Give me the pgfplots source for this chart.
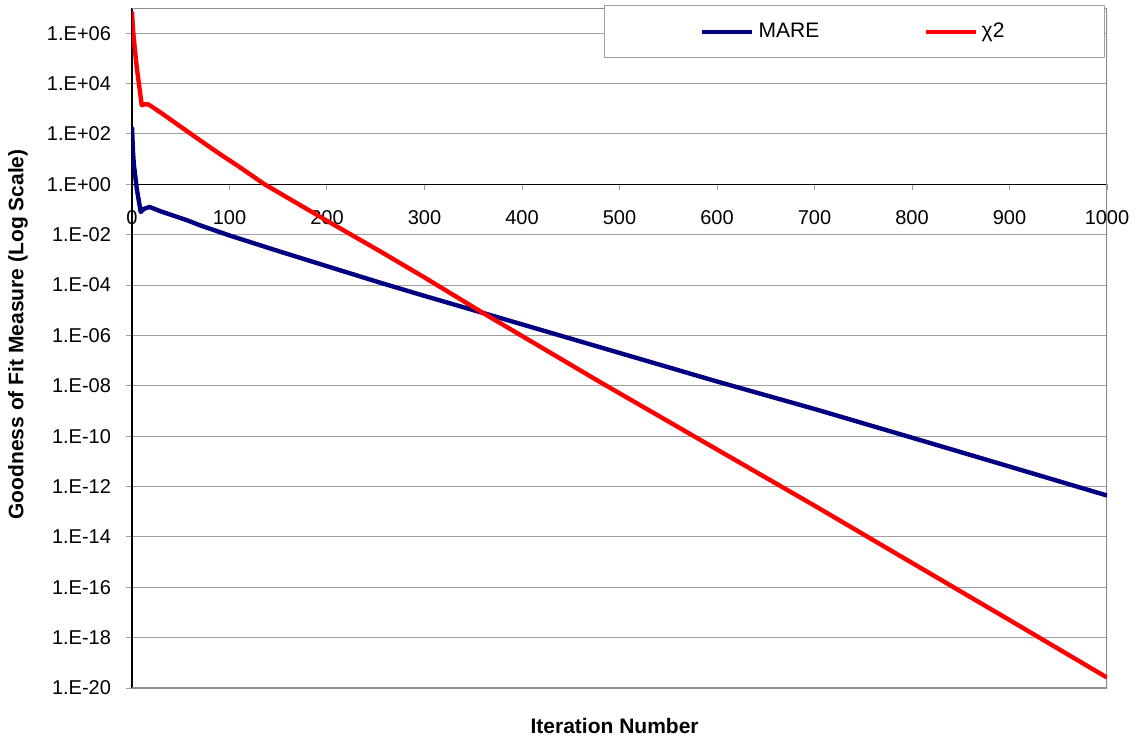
\documentclass[border=0pt]{standalone}
\usepackage{pgfplots}
\pgfplotsset{compat=1.18}
\usepackage{fontspec}
\setmainfont{Liberation Sans}
\definecolor{gridc}{HTML}{A0A0A0}
\definecolor{framec}{HTML}{8C8C8C}
\definecolor{mare}{HTML}{000080}
\definecolor{chi}{HTML}{FF0000}
\begin{document}
\begin{tikzpicture}
\begin{axis}[
  scale only axis, width=487.5pt, height=340pt,
  xmin=0, xmax=1000, ymode=log, ymin=1e-20, ymax=1e7,
  axis x line*=middle, axis y line*=left,
  axis line style={black, line width=0.6pt},
  hide obscured x ticks=false,
  xtick={0,100,200,300,400,500,600,700,800,900,1000},
  xticklabels={0,100,200,300,400,500,600,700,800,900,1000},
  ytick={1e-20,1e-18,1e-16,1e-14,1e-12,1e-10,1e-8,1e-6,1e-4,1e-2,1,1e2,1e4,1e6},
  yticklabels={1.E-20,1.E-18,1.E-16,1.E-14,1.E-12,1.E-10,1.E-08,1.E-06,1.E-04,1.E-02,1.E+00,1.E+02,1.E+04,1.E+06},
  yminorticks=false, xminorticks=false,
  ymajorgrids, major grid style={gridc, line width=0.5pt},
  tick style={gridc, line width=0.5pt}, major tick length=3pt,
  ytick align=outside, xtick align=center,
  major x tick style={yshift=-1.5pt},
  ticklabel style={font=\fontsize{10}{12}\selectfont},
  xticklabel style={yshift=-8pt},
  yticklabel style={xshift=-4pt},
  xlabel={Iteration Number}, ylabel={Goodness of Fit Measure (Log Scale)},
  every axis x label/.style={at={(rel axis cs:0.495,-0.056)}, anchor=center, font=\fontsize{10.5}{12}\selectfont\bfseries},
  every axis y label/.style={at={(rel axis cs:-0.117,0.52)}, rotate=90, anchor=center, font=\fontsize{10.5}{12}\selectfont\bfseries},
  legend columns=2,
  legend style={at={(rel axis cs:0.998,1.004)}, anchor=north east, draw=gridc, line width=0.6pt, fill=white,
    font=\fontsize{10.5}{12}\selectfont, inner xsep=48pt, inner ysep=6.5pt,
    /tikz/every even column/.append style={column sep=50pt}},
  legend image code/.code={\draw[#1] (0pt,0pt) -- (25pt,0pt);},
  line join=round,
]
\draw[framec, line width=0.8pt] (rel axis cs:0,0) -- (rel axis cs:1,0) -- (rel axis cs:1,1) -- (rel axis cs:0,1);
\addplot[mare, line width=2.2pt] coordinates {
(0,190) (1,20) (2,5.6) (5,0.63) (9,0.079) (12,0.105) (18,0.126) (30,0.083)
(56,0.038) (70,0.0234) (100,9.3e-3) (150,2.24e-3) (200,5.6e-4) (254,1.26e-4)
(300,3.7e-5) (360,7.8e-6) (480,3.4e-7) (600,1.48e-8) (700,1.2e-9)
(800,8.7e-11) (900,6.2e-12) (1000,4.4e-13)
};
\addlegendentry{MARE}
\addplot[chi, line width=2.2pt] coordinates {
(0,7.1e6) (1,1.4e6) (3,2.2e5) (5,4.0e4) (8,5.4e3) (10,1.38e3) (13,1.51e3) (17,1.48e3)
(30,6.8e2) (56,1.32e2) (70,55) (90,16) (109,5.25) (136,1.0) (170,1.7e-1) (200,3.55e-2) (254,2.24e-3)
(300,2.0e-4) (360,7.8e-6) (480,1.41e-8) (600,2.95e-11) (700,1.74e-13)
(800,9.3e-16) (900,5.0e-18) (1000,2.6e-20)
};
\addlegendentry{χ2}
\end{axis}
\pgfresetboundingbox
\path[use as bounding box] (-66pt,-26pt) rectangle (502.5pt,344pt);
\end{tikzpicture}
\end{document}
